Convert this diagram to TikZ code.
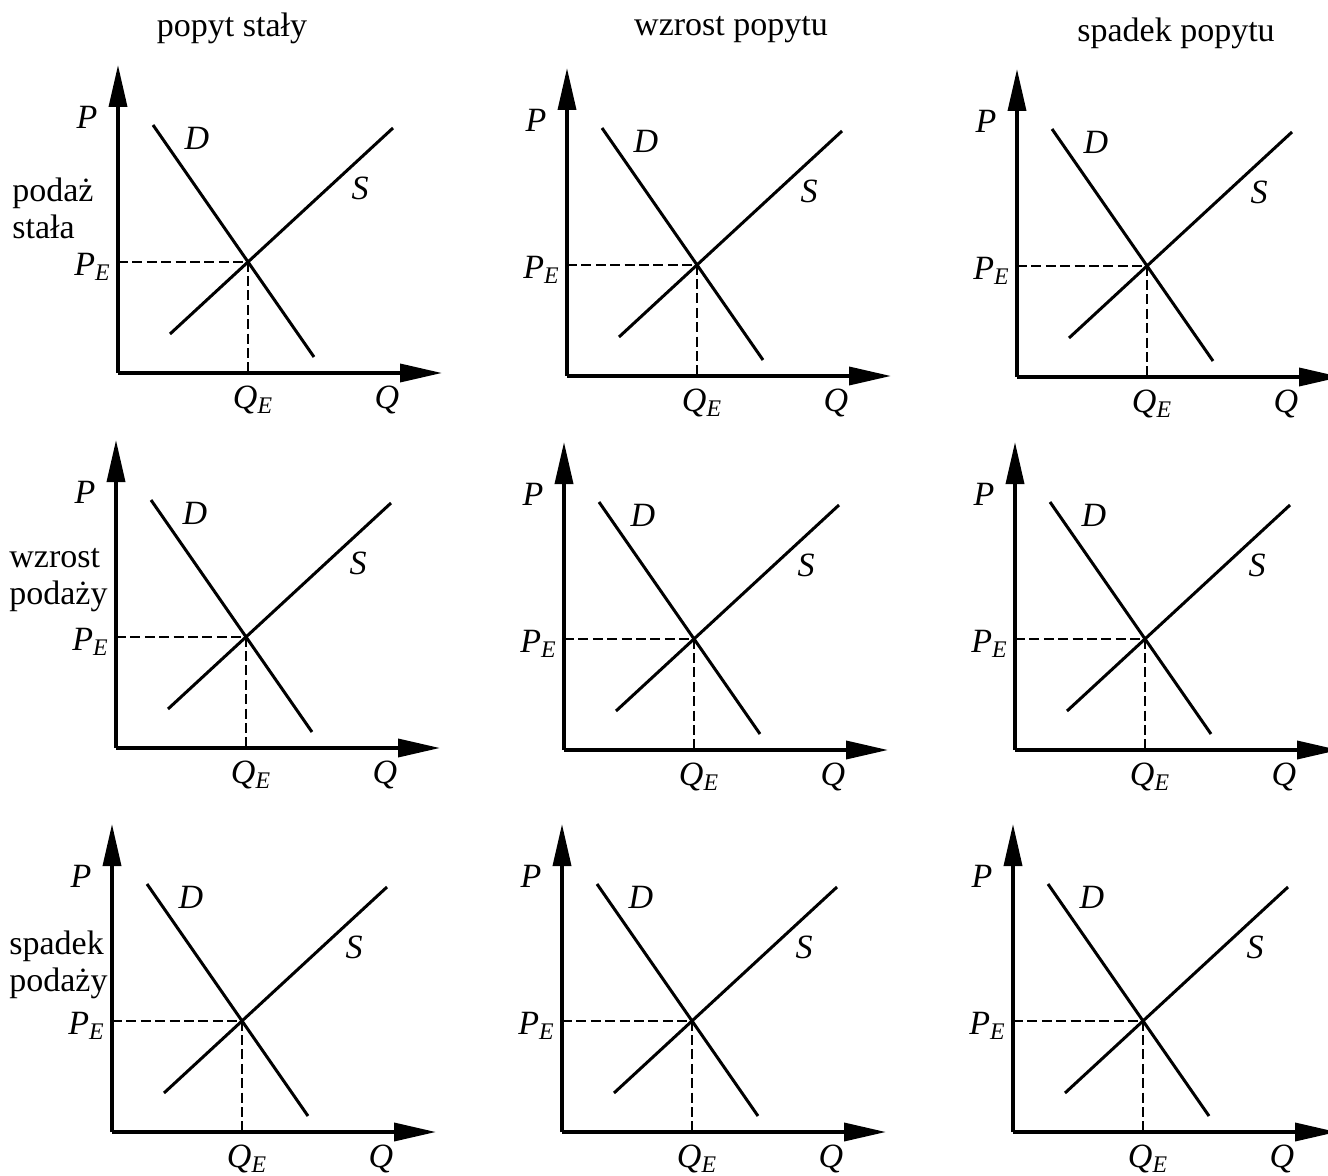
\documentclass[tikz,border=0pt]{standalone}
\usepackage{fontspec}
\setmainfont{Liberation Serif}
\usetikzlibrary{arrows.meta}

\begin{document}
\begin{tikzpicture}[x=0.5bp,y=-0.5bp,line cap=butt,line join=miter]
  \path[use as bounding box] (0,0) rectangle (1328,1176);
  \fill[white] (0,0) rectangle (1328,1176);

  \tikzset{
    axis/.style={line width=1.8bp,-{Triangle[length=21bp,width=9bp]}},
    curve/.style={line width=1.5bp},
    guide/.style={line width=1.4bp,dash pattern=on 5bp off 2.2bp},
    title/.style={inner sep=0pt,font=\fontsize{17bp}{19bp}\selectfont},
    rowlabel/.style={inner sep=0pt,anchor=west,align=left,
      font=\fontsize{17bp}{18.5bp}\selectfont},
    varlabel/.style={inner sep=0pt,font=\fontsize{17bp}{17bp}\selectfont\itshape},
  }

  % Column titles
  \node[title] (col1) at (232,28) {popyt stały};
  \node[title] (col2) at (731,30) {wzrost popytu};
  \node[title] (col3) at (1176,33) {spadek popytu};

  % Row labels
  \node[rowlabel] (row1) at (12,208) {podaż\\stała};
  \node[rowlabel] (row2) at (9,580) {wzrost\\podaży};
  \node[rowlabel] (row3) at (9,965) {spadek\\podaży};

  % ==================== PANELS ====================
  \foreach \r/\c/\cx/\cy in {1/1/118/373,1/2/567/376,1/3/1017/377,
                             2/1/116/748,2/2/564/750,2/3/1015/750,
                             3/1/112/1132,3/2/562/1132,3/3/1013/1132} {
    \begin{scope}[shift={(\cx,\cy)}]
      \coordinate (o\r\c) at (0,0);
      \coordinate (ptop\r\c) at (0,-308);
      \coordinate (qend\r\c) at (324,0);
      \coordinate (da\r\c) at (35,-248);
      \coordinate (db\r\c) at (196,-16);
      \coordinate (sa\r\c) at (52,-39);
      \coordinate (sb\r\c) at (275,-245);
      \coordinate (eq\r\c) at (130,-111);
      \coordinate (pe\r\c) at (0,-111);
      \coordinate (qe\r\c) at (130,0);

      % axes
      \draw[axis] (o\r\c) -- (ptop\r\c);
      \draw[axis] (o\r\c) -- (qend\r\c);

      % demand and supply
      \draw[curve] (da\r\c) -- (db\r\c);
      \draw[curve] (sa\r\c) -- (sb\r\c);

      % equilibrium guides
      \draw[guide] (pe\r\c) -- (eq\r\c) -- (qe\r\c);

      % labels
      \node[varlabel] (lp\r\c) at (-31,-256) {P};
      \node[varlabel] (ld\r\c) at (79,-235) {D};
      \node[varlabel] (ls\r\c) at (242,-185) {S};
      \node[varlabel,anchor=east] (lpe\r\c) at (-7,-106) {P\textsubscript{E}};
      \node[varlabel] (lqe\r\c) at (135,27) {Q\textsubscript{E}};
      \node[varlabel] (lq\r\c) at (269,27) {Q};
    \end{scope}
  }

\end{tikzpicture}
\end{document}
